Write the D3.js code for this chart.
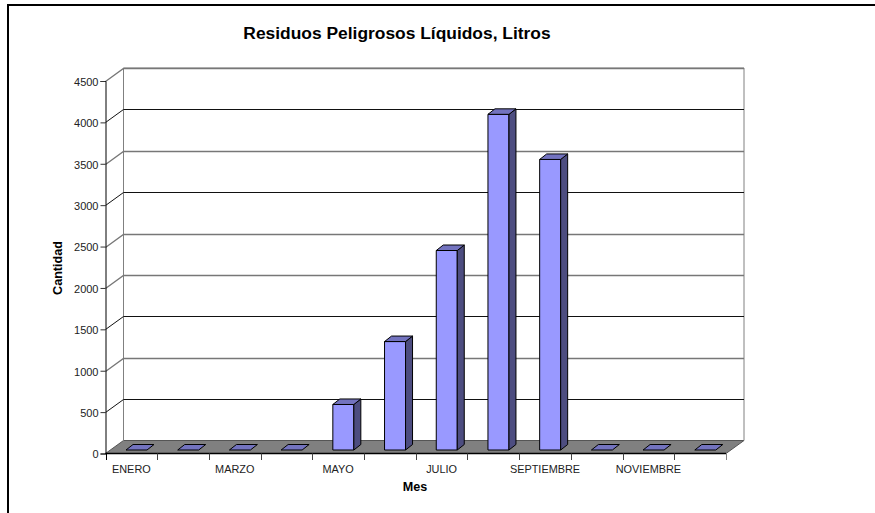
<!DOCTYPE html>
<html><head><meta charset="utf-8">
<script src="https://cdn.jsdelivr.net/npm/d3@7/dist/d3.min.js"></script>
<style>html,body{margin:0;padding:0;background:#fff}svg{display:block}text{font-family:"Liberation Sans",Arial,sans-serif;fill:#222}</style>
</head><body><script>
const months=["ENERO","FEBRERO","MARZO","ABRIL","MAYO","JUNIO","JULIO","AGOSTO","SEPTIEMBRE","OCTUBRE","NOVIEMBRE","DICIEMBRE"];
const tickLabels=["ENERO","","MARZO","","MAYO","","JULIO","","SEPTIEMBRE","","NOVIEMBRE",""];
const values=[0,0,0,0,550,1310,2410,4055,3510,0,0,0];
const yTicks=[0,500,1000,1500,2000,2500,3000,3500,4000,4500];
const grayGrid=[1000,2000,2500,3500,4500];
const W=875,H=513,x0=105.5,x1=726,y0=453.5,y1=81,dx=18,dy=-13;
const svg=d3.select("body").append("svg").attr("width",W).attr("height",H);
const x=d3.scaleBand().domain(months).range([x0,x1]);
const y=d3.scaleLinear().domain([0,4500]).range([y0,y1]);
const gray="#808080";
// frame
svg.append("path").attr("d",`M8,513V5H875`).attr("fill","none").attr("stroke","#000").attr("stroke-width",2);
// floor
svg.append("path").attr("d",`M${x0},${y0}L${x0+dx},${y0+dy}H${x1+dx}L${x1},${y0}Z`).attr("fill",gray).attr("stroke","#555");
// back wall + grid
svg.append("path").attr("d",`M${x0+dx},${y0+dy}V${y1+dy}H${x1+dx}V${y0+dy}`).attr("fill","none").attr("stroke",gray).attr("stroke-width",1);
const g=svg.append("g").selectAll("g").data(yTicks.slice(1)).join("g");
g.append("path").attr("d",d=>`M${x0},${Math.round(y(d))+.5}L${x0+dx},${Math.round(y(d)+dy)+.5}H${x1+dx}`).attr("fill","none")
 .attr("stroke",d=>grayGrid.includes(d)?"#777":"#111").attr("stroke-width",d=>grayGrid.includes(d)?1.3:1);
// axes
const yAxis=d3.axisLeft(y).tickValues(yTicks).tickSize(5).tickPadding(2).tickFormat(d3.format("d"));
const ya=svg.append("g").attr("transform",`translate(${x0},0)`).call(yAxis);
ya.selectAll("text").attr("font-size",11).attr("dy","0.4em").attr("fill","#222").style("font-family",'"Liberation Sans"');
ya.select(".domain").attr("stroke","#000");
ya.selectAll(".tick line").attr("stroke","#333");
const xa=svg.append("g").attr("transform",`translate(0,${y0})`);
xa.append("line").attr("x1",x0).attr("x2",x1).attr("stroke","#000").attr("stroke-width",1.5);
xa.selectAll(".t").data([...months.map(m=>x(m)),x1]).join("line").attr("class","t").attr("x1",d=>Math.round(d)+.5).attr("x2",d=>Math.round(d)+.5).attr("y1",0).attr("y2",6.5).attr("stroke",(d,i)=>i==0?"#000":(i==12?gray:"#444"));
xa.selectAll(".l").data(tickLabels).join("text").attr("class","l").attr("x",(d,i)=>x(months[i])+x.bandwidth()/2).attr("y",19).attr("text-anchor","middle").attr("font-size",10.9).text(d=>d);
// bars
const bw=21,ddx=7,ddy=-5.5,off=20.5,by=y0-3.5;
const h=d=>y0-y(d);
const bars=svg.append("g").selectAll("g").data(months.map((m,i)=>({m,v:values[i]}))).join("g").attr("stroke","#000").attr("stroke-width",1).attr("stroke-linejoin","round");
const bx=d=>x(d.m)+off, ty=d=>by-h(d.v);
bars.filter(d=>d.v>0).append("rect").attr("x",bx).attr("y",ty).attr("width",bw).attr("height",d=>h(d.v)).attr("fill","#9999ff");
bars.filter(d=>d.v>0).append("path").attr("d",d=>`M${bx(d)+bw},${ty(d)}l${ddx},${ddy}V${by+ddy}l${-ddx},${-ddy}Z`).attr("fill","#4d4d80");
bars.append("path").attr("d",d=>`M${bx(d)},${ty(d)}l${ddx},${ddy}h${bw}l${-ddx},${-ddy}Z`).attr("fill","#7373bf");
// titles
svg.append("text").attr("x",397).attr("y",39).attr("text-anchor","middle").attr("font-size",17.4).attr("font-weight","bold").attr("fill","#000").style("fill","#000").text("Residuos Peligrosos Líquidos, Litros");
svg.append("text").attr("x",415).attr("y",490.5).attr("text-anchor","middle").attr("font-size",12.6).attr("font-weight","bold").style("fill","#000").text("Mes");
svg.append("text").attr("transform","translate(61.5,268) rotate(-90)").attr("text-anchor","middle").attr("font-size",12.6).attr("font-weight","bold").style("fill","#000").text("Cantidad");
</script></body></html>
